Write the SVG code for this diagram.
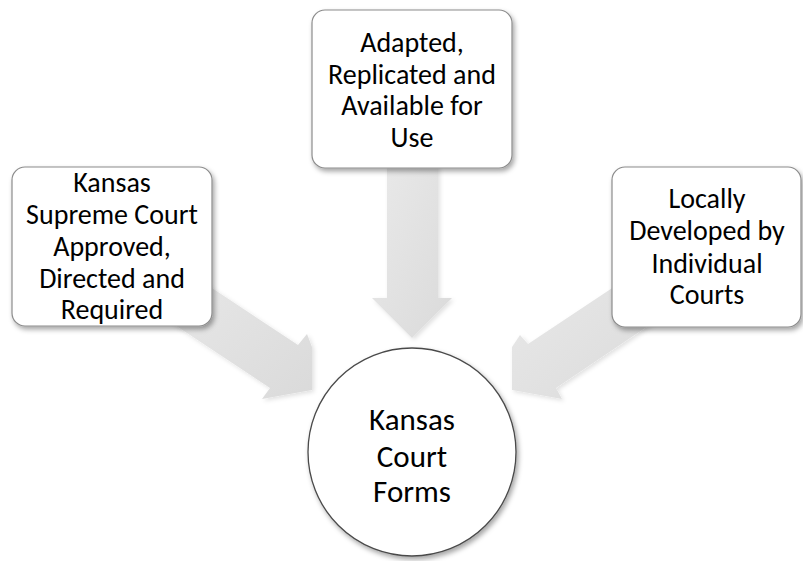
<svg xmlns="http://www.w3.org/2000/svg" width="803" height="561" viewBox="0 0 803 561">
<style>
.box{fill:#ffffff;stroke:#8c8c8c;stroke-width:1.2;filter:url(#sh)}
.circ{fill:#ffffff;stroke:#4a4a4a;stroke-width:1.3;filter:url(#sh)}
.arr{fill:url(#ag);filter:url(#ash)}
.t{font-family:Carlito,"Open Sans","Liberation Sans",sans-serif;font-size:28px;fill:#000;text-anchor:middle}
.tc{font-size:31px}
</style>
<defs>
<filter id="sh" x="-10%" y="-10%" width="125%" height="125%">
<feDropShadow dx="2" dy="3" stdDeviation="2.5" flood-color="#000" flood-opacity="0.35"/>
</filter>
<filter id="ash" x="-10%" y="-10%" width="125%" height="125%">
<feDropShadow dx="2" dy="2" stdDeviation="2" flood-color="#000" flood-opacity="0.12"/>
</filter>
<linearGradient id="ag" x1="0" y1="0" x2="1" y2="1">
<stop offset="0" stop-color="#eaeaea"/>
<stop offset="1" stop-color="#dadada"/>
</linearGradient>
</defs>
<g id="connectors">
<polygon class="arr" points="150,247 298,345 307,334 312,347 312,390 262,399 270,388 150,308.6"/>
<polygon class="arr" points="674,247 528,344 520,335 512,347 512,390 562,399 556,388 674,308.6"/>
<polygon class="arr" points="387,150 438,150 438,298 452,298 412,338 372,298 387,298"/>
</g>
<g id="node-left">
<rect class="box" x="12" y="167" width="200" height="159" rx="13"/>
<text class="t" x="112" y="192">Kansas</text>
<text class="t" x="112" y="224">Supreme Court</text>
<text class="t" x="112" y="256">Approved,</text>
<text class="t" x="112" y="288">Directed and</text>
<text class="t" x="112" y="319">Required</text>
</g>
<g id="node-top">
<rect class="box" x="312" y="10" width="200" height="158" rx="13"/>
<text class="t" x="412" y="52">Adapted,</text>
<text class="t" x="412" y="83.5">Replicated and</text>
<text class="t" x="412" y="115">Available for</text>
<text class="t" x="412" y="147">Use</text>
</g>
<g id="node-right">
<rect class="box" x="612" y="167" width="189" height="160" rx="13"/>
<text class="t" x="707" y="208">Locally</text>
<text class="t" x="707" y="240">Developed by</text>
<text class="t" x="707" y="272.5">Individual</text>
<text class="t" x="707" y="304">Courts</text>
</g>
<g id="node-center">
<circle class="circ" cx="412" cy="452" r="104"/>
<text class="t tc" x="412" y="430">Kansas</text>
<text class="t tc" x="412" y="466.5">Court</text>
<text class="t tc" x="412" y="502">Forms</text>
</g>
</svg>
